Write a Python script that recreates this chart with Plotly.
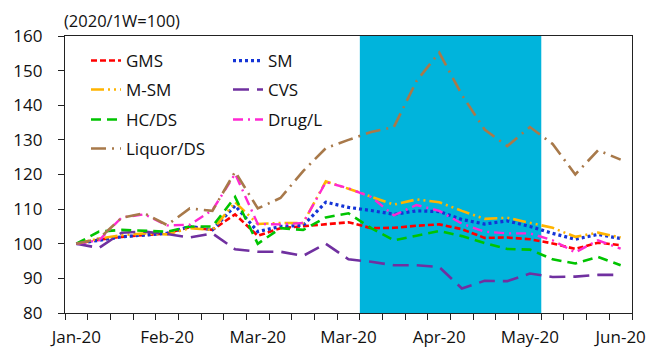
import plotly.graph_objects as go

# ---- data ----
weeks = ["2020-01-06", "2020-01-13", "2020-01-20", "2020-01-27", "2020-02-03",
         "2020-02-10", "2020-02-17", "2020-02-24", "2020-03-02", "2020-03-09",
         "2020-03-16", "2020-03-23", "2020-03-30", "2020-04-06", "2020-04-13",
         "2020-04-20", "2020-04-27", "2020-05-04", "2020-05-11", "2020-05-18",
         "2020-05-25", "2020-06-01", "2020-06-08", "2020-06-15", "2020-06-22"]

gms = [100, 101.2, 102, 102.5, 103, 104.8, 104, 108.5, 102.3, 104.5, 105, 105.5, 106.2,
       104.5, 104.6, 105.2, 105.6, 104.2, 101.7, 101.8, 101.3, 100.1, 98.5, 100.3, 99.6]
sm = [100, 101, 102, 102.5, 103, 105, 104, 111, 103.5, 105, 105.3, 112, 110.5,
      109.6, 108.5, 109.5, 109.3, 107, 105.7, 106.6, 105, 103, 101.3, 102.7, 101.5]
msm = [100, 101.5, 102.5, 103, 102.7, 104.5, 104, 112, 105.7, 106, 106, 118, 115.9,
       113.5, 111.3, 112.8, 112, 109.5, 107.2, 107.5, 106, 104.6, 102, 103.2, 101.8]
cvs = [100, 98.8, 103.2, 103.5, 102.8, 101.8, 103, 98.4, 97.7, 97.7, 96.5, 100, 95.5,
       94.8, 93.8, 93.8, 93.3, 87.1, 89.3, 89.2, 91.4, 90.4, 90.5, 91, 91]
hcds = [100, 103.5, 104, 103.7, 103.5, 105, 105, 113.5, 100, 104.5, 104, 107.6, 108.8,
        104.5, 101, 102.3, 103.7, 102.2, 100.2, 98.5, 98.3, 95.5, 94.3, 96.2, 93.8]
drug = [100, 101, 107.6, 108.5, 105.3, 105.5, 109.7, 120.2, 105.7, 105.6, 106, 117.8, 116,
        113.5, 108.2, 111.2, 109.5, 105.8, 103.5, 103, 103, 101, 97.5, 101, 98.6]
liquor = [100, 101.5, 107.5, 108.8, 105.4, 110.2, 109.5, 120.8, 110.2, 113.2, 121, 127.6, 130,
          132.3, 133.7, 147, 155.2, 143, 133, 128.2, 133.7, 128.8, 120, 127, 124.3]

tick_labels = ["Jan-20", "Feb-20", "Mar-20", "Mar-20", "Apr-20", "May-20", "Jun-20"]
label_weeks = ["2020-01-06", "2020-02-03", "2020-03-02", "2020-03-30",
               "2020-04-27", "2020-05-25", "2020-06-22"]
shade_from, shade_to = "2020-03-30", "2020-05-25"   # emergency period (between weeks)

series = [
    ("GMS", gms, "#FF0000", "6px,3px", 2.6),
    ("SM", sm, "#1434D6", "3px,3px", 3.2),
    ("M-SM", msm, "#FFB400", "13px,4px,2px,4px,2px,4px", 2.6),
    ("CVS", cvs, "#7030A0", "16px,8px", 2.6),
    ("HC/DS", hcds, "#00C400", "10px,6px", 2.6),
    ("Drug/L", drug, "#FF28D2", "10px,5px,2px,5px", 2.4),
    ("Liquor/DS", liquor, "#A8794A", "15px,6px,2px,6px", 2.6),
]

# ---- geometry ----
W, H = 651, 348
L, R, T, B = 65, 632, 36, 313
PW, PH = R - L, B - T
FS = 17

def px_x(p):
    return (p - L) / PW

def px_y(p):
    return (B - p) / PH

idx = {w: i for i, w in enumerate(weeks)}
xs = list(range(len(weeks)))

fig = go.Figure()
legend_pos = [(86, 61), (228, 61), (86, 90), (228, 90), (86, 120), (228, 120), (86, 149)]
layout_legends = {}
for n, (name, vals, col, dash, w) in enumerate(series):
    lname = "legend" if n == 0 else f"legend{n + 1}"
    fig.add_trace(go.Scatter(x=xs, y=vals, mode="lines", name=name,
                             line=dict(color=col, dash=dash, width=w),
                             legend=lname, showlegend=True, hoverinfo="skip"))
    lx, ly = legend_pos[n]
    layout_legends[lname] = dict(x=px_x(lx), y=px_y(ly), xanchor="left", yanchor="middle",
                                 bgcolor="rgba(0,0,0,0)", borderwidth=0,
                                 font=dict(size=FS, color="#111"),
                                 orientation="h", visible=True)

fig.add_shape(type="rect", xref="x", yref="paper",
              x0=idx[shade_from] + 0.5, x1=idx[shade_to] + 0.5, y0=0, y1=1,
              fillcolor="#00B4DC", line_width=0, layer="below")

fig.add_annotation(text="(2020/1W=100)", xref="paper", yref="paper",
                   x=px_x(62), y=px_y(20), xanchor="left", yanchor="middle",
                   showarrow=False, font=dict(size=16.5, color="#111"))

fig.update_layout(
    width=W, height=H,
    margin=dict(l=L, r=W - R, t=T, b=H - B, pad=0, autoexpand=False),
    paper_bgcolor="white", plot_bgcolor="white",
    font=dict(family="Open Sans", size=FS, color="#111"),
    showlegend=True,
    **layout_legends,
)
fig.update_xaxes(range=[-0.5, len(weeks) - 0.5], automargin=False,
                 tickmode="array", tickvals=[idx[w] for w in label_weeks],
                 ticktext=tick_labels, ticks="", ticklabelstandoff=8,
                 showgrid=False, zeroline=False,
                 showline=True, linecolor="#222", linewidth=1.4, mirror=True,
                 minor=dict(tickmode="array",
                            tickvals=[i - 0.5 for i in range(len(weeks) + 1)],
                            ticks="outside", ticklen=6, tickcolor="#222", tickwidth=1.4,
                            showgrid=False))
fig.update_yaxes(range=[80, 160], tickmode="linear", tick0=80, dtick=10, automargin=False,
                 ticks="outside", ticklen=6, tickcolor="#222", tickwidth=1.4,
                 ticklabelstandoff=12,
                 showgrid=False, zeroline=False,
                 showline=True, linecolor="#222", linewidth=1.4, mirror=True)

fig.write_html("out.html")
